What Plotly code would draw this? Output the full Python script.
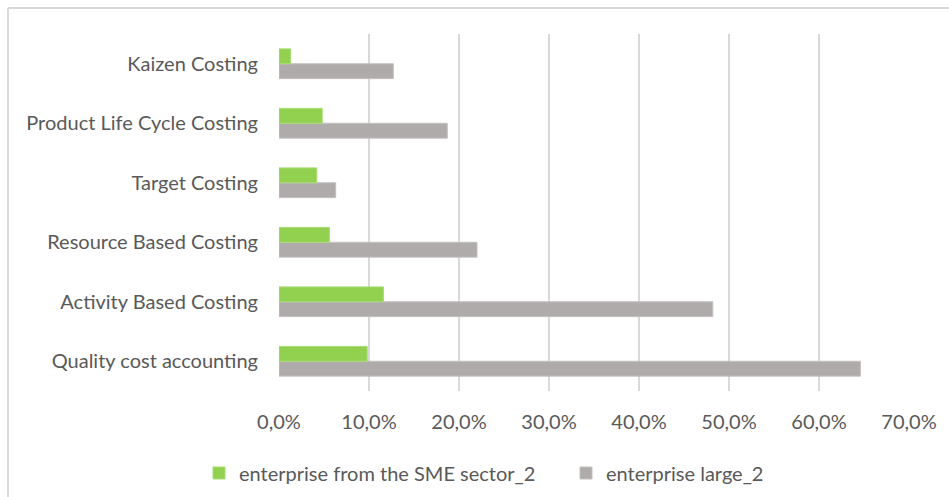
import plotly.graph_objects as go

categories = ["Quality cost accounting", "Activity Based Costing", "Resource Based Costing",
              "Target Costing", "Product Life Cycle Costing", "Kaizen Costing"]
sme_values = [9.8, 11.6, 5.6, 4.2, 4.8, 1.3]
large_values = [64.6, 48.2, 22.0, 6.3, 18.7, 12.7]
x_ticks = [0, 10, 20, 30, 40, 50, 60, 70]
x_tick_labels = ["0,0%", "10,0%", "20,0%", "30,0%", "40,0%", "50,0%", "60,0%", "70,0%"]

FONT = "Lato"
TXT = "#595959"
FS = 20
W, H = 949, 497
ml, mr, mt, mb = 279, 40, 34, 106
pw, ph = W - ml - mr, H - mt - mb

fig = go.Figure()
fig.add_trace(go.Bar(y=categories, x=large_values, orientation="h", name="enterprise large_2",
                     marker=dict(color="#afabab", line=dict(color="#c4c1c1", width=1)),
                     legend="legend2"))
fig.add_trace(go.Bar(y=categories, x=sme_values, orientation="h", name="enterprise from the SME sector_2",
                     marker=dict(color="#92d050", line=dict(color="#a9dc74", width=1)),
                     legend="legend"))

def px_x(p):
    return (p - ml) / pw

def px_y(p):
    return 1 - (p - mt) / ph

leg_common = dict(orientation="h", yanchor="middle", y=px_y(473), xanchor="left",
                  font=dict(family=FONT, size=FS, color=TXT), itemwidth=30,
                  bgcolor="rgba(0,0,0,0)")

fig.update_layout(
    width=W, height=H,
    margin=dict(l=ml, r=mr, t=mt, b=mb, autoexpand=False),
    paper_bgcolor="white", plot_bgcolor="white",
    barmode="group", bargap=0.5, bargroupgap=0,
    font=dict(family=FONT, size=FS, color=TXT),
    showlegend=True,
    legend=dict(x=px_x(199), **leg_common),
    legend2=dict(x=px_x(566), **leg_common),
    xaxis=dict(range=[0, 70], tickvals=x_ticks, ticktext=x_tick_labels, showgrid=True,
               gridcolor="#d9d9d9", gridwidth=1.5, zeroline=False, showline=False,
               ticks="", ticklabelstandoff=17, tickfont=dict(family=FONT, size=FS, color=TXT)),
    yaxis=dict(showgrid=False, zeroline=False, showline=False, ticks="",
               ticklabelstandoff=20, tickfont=dict(family=FONT, size=FS, color=TXT)),
    shapes=[
        dict(type="line", xref="paper", yref="paper", x0=px_x(8), x1=px_x(960), y0=px_y(8), y1=px_y(8),
             line=dict(color="#d9d9d9", width=2)),
        dict(type="line", xref="paper", yref="paper", x0=px_x(8), x1=px_x(8), y0=px_y(8), y1=px_y(510),
             line=dict(color="#d9d9d9", width=2)),
    ],
)

fig.write_html("out.html")
